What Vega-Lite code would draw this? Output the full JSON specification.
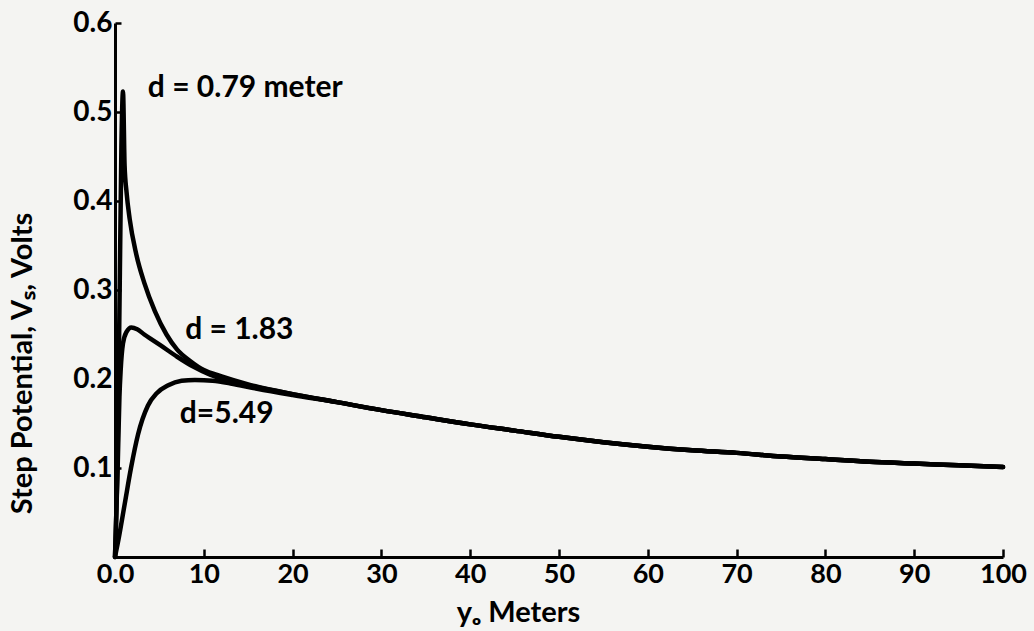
{
  "$schema": "https://vega.github.io/schema/vega-lite/v6.json",
  "width": 888,
  "height": 534,
  "autosize": {"type": "none"},
  "padding": {"left": 115, "top": 23, "right": 31, "bottom": 74},
  "background": "#f4f4f2",
  "config": {
    "view": {"stroke": null},
    "font": "Lato"
  },
  "datasets": {
    "curves": [
      {"x": 0, "v": 0, "d": "0.79"}, {"x": 0.3, "v": 0.12, "d": "0.79"}, {"x": 0.55, "v": 0.32, "d": "0.79"}, {"x": 0.72, "v": 0.46, "d": "0.79"}, {"x": 0.9, "v": 0.523, "d": "0.79"}, {"x": 1.08, "v": 0.44, "d": "0.79"}, {"x": 1.3, "v": 0.41, "d": "0.79"}, {"x": 1.65, "v": 0.38, "d": "0.79"}, {"x": 2.4, "v": 0.34, "d": "0.79"}, {"x": 3.3, "v": 0.308, "d": "0.79"}, {"x": 4.5, "v": 0.276, "d": "0.79"}, {"x": 5.8, "v": 0.25, "d": "0.79"}, {"x": 7, "v": 0.233, "d": "0.79"}, {"x": 8.5, "v": 0.22, "d": "0.79"}, {"x": 10, "v": 0.21, "d": "0.79"}, {"x": 12, "v": 0.203, "d": "0.79"}, {"x": 15, "v": 0.194, "d": "0.79"}, {"x": 20, "v": 0.183, "d": "0.79"}, {"x": 25, "v": 0.174, "d": "0.79"}, {"x": 30, "v": 0.165, "d": "0.79"}, {"x": 35, "v": 0.157, "d": "0.79"}, {"x": 40, "v": 0.149, "d": "0.79"}, {"x": 45, "v": 0.142, "d": "0.79"}, {"x": 50, "v": 0.135, "d": "0.79"}, {"x": 55, "v": 0.129, "d": "0.79"}, {"x": 60, "v": 0.124, "d": "0.79"}, {"x": 65, "v": 0.12, "d": "0.79"}, {"x": 70, "v": 0.117, "d": "0.79"}, {"x": 75, "v": 0.113, "d": "0.79"}, {"x": 80, "v": 0.11, "d": "0.79"}, {"x": 85, "v": 0.107, "d": "0.79"}, {"x": 90, "v": 0.105, "d": "0.79"}, {"x": 95, "v": 0.103, "d": "0.79"}, {"x": 100, "v": 0.101, "d": "0.79"},

      {"x": 0, "v": 0, "d": "1.83"}, {"x": 0.3, "v": 0.1, "d": "1.83"}, {"x": 0.5, "v": 0.18, "d": "1.83"}, {"x": 0.64, "v": 0.21, "d": "1.83"}, {"x": 0.9, "v": 0.24, "d": "1.83"}, {"x": 1.3, "v": 0.253, "d": "1.83"}, {"x": 1.84, "v": 0.258, "d": "1.83"}, {"x": 2.5, "v": 0.256, "d": "1.83"}, {"x": 3.3, "v": 0.25, "d": "1.83"}, {"x": 4.2, "v": 0.244, "d": "1.83"}, {"x": 5.1, "v": 0.238, "d": "1.83"}, {"x": 7, "v": 0.225, "d": "1.83"}, {"x": 8.8, "v": 0.214, "d": "1.83"}, {"x": 10.7, "v": 0.205, "d": "1.83"}, {"x": 12.6, "v": 0.199, "d": "1.83"}, {"x": 15, "v": 0.193, "d": "1.83"}, {"x": 20, "v": 0.183, "d": "1.83"}, {"x": 25, "v": 0.174, "d": "1.83"}, {"x": 30, "v": 0.165, "d": "1.83"}, {"x": 35, "v": 0.157, "d": "1.83"}, {"x": 40, "v": 0.149, "d": "1.83"}, {"x": 45, "v": 0.142, "d": "1.83"}, {"x": 50, "v": 0.135, "d": "1.83"}, {"x": 55, "v": 0.129, "d": "1.83"}, {"x": 60, "v": 0.124, "d": "1.83"}, {"x": 65, "v": 0.12, "d": "1.83"}, {"x": 70, "v": 0.117, "d": "1.83"}, {"x": 75, "v": 0.113, "d": "1.83"}, {"x": 80, "v": 0.11, "d": "1.83"}, {"x": 85, "v": 0.107, "d": "1.83"}, {"x": 90, "v": 0.105, "d": "1.83"}, {"x": 95, "v": 0.103, "d": "1.83"}, {"x": 100, "v": 0.101, "d": "1.83"},

      {"x": 0, "v": 0, "d": "5.49"}, {"x": 0.4, "v": 0.02, "d": "5.49"}, {"x": 1.1, "v": 0.06, "d": "5.49"}, {"x": 1.8, "v": 0.1, "d": "5.49"}, {"x": 2.6, "v": 0.138, "d": "5.49"}, {"x": 3.7, "v": 0.17, "d": "5.49"}, {"x": 4.7, "v": 0.184, "d": "5.49"}, {"x": 6, "v": 0.193, "d": "5.49"}, {"x": 7.5, "v": 0.198, "d": "5.49"}, {"x": 9, "v": 0.199, "d": "5.49"}, {"x": 11, "v": 0.198, "d": "5.49"}, {"x": 13, "v": 0.195, "d": "5.49"}, {"x": 16, "v": 0.189, "d": "5.49"}, {"x": 20, "v": 0.182, "d": "5.49"}, {"x": 25, "v": 0.174, "d": "5.49"}, {"x": 30, "v": 0.165, "d": "5.49"}, {"x": 35, "v": 0.157, "d": "5.49"}, {"x": 40, "v": 0.149, "d": "5.49"}, {"x": 45, "v": 0.142, "d": "5.49"}, {"x": 50, "v": 0.135, "d": "5.49"}, {"x": 55, "v": 0.129, "d": "5.49"}, {"x": 60, "v": 0.124, "d": "5.49"}, {"x": 65, "v": 0.12, "d": "5.49"}, {"x": 70, "v": 0.117, "d": "5.49"}, {"x": 75, "v": 0.113, "d": "5.49"}, {"x": 80, "v": 0.11, "d": "5.49"}, {"x": 85, "v": 0.107, "d": "5.49"}, {"x": 90, "v": 0.105, "d": "5.49"}, {"x": 95, "v": 0.103, "d": "5.49"}, {"x": 100, "v": 0.101, "d": "5.49"}
    ],
    "labels": [
      {"x": 3.7, "v": 0.527, "text": "d = 0.79 meter"},
      {"x": 7.9, "v": 0.255, "text": "d = 1.83"},
      {"x": 7.3, "v": 0.161, "text": "d=5.49"}
    ]
  },
  "layer": [
    {
      "data": {"name": "curves"},
      "mark": {"type": "line", "interpolate": "monotone", "strokeWidth": 4.5, "strokeCap": "round", "strokeJoin": "round"},
      "encoding": {
        "x": {
          "field": "x", "type": "quantitative",
          "scale": {"domain": [0, 100], "nice": false, "zero": true},
          "axis": {
            "values": [0, 10, 20, 30, 40, 50, 60, 70, 80, 90, 100],
            "labelExpr": "datum.value == 0 ? '0.0' : datum.label",
            "labelFlush": false,
            "grid": false,
            "domainColor": "black", "domainWidth": 3,
            "tickColor": "black", "tickWidth": 2.5, "tickSize": -8,
            "labelColor": "black", "labelFont": "Lato", "labelFontSize": 27, "labelFontWeight": "bold", "labelPadding": 12,
            "title": "yₒ Meters",
            "titleFont": "Lato", "titleFontSize": 29, "titleFontWeight": "bold", "titleColor": "black",
            "titleX": 403, "titleY": 55, "titleAlign": "center", "titleBaseline": "middle"
          }
        },
        "y": {
          "field": "v", "type": "quantitative",
          "scale": {"domain": [0, 0.6], "nice": false},
          "axis": {
            "values": [0.1, 0.2, 0.3, 0.4, 0.5, 0.6],
            "format": ".1f",
            "labelFlush": false,
            "grid": false,
            "domainColor": "black", "domainWidth": 3,
            "tickColor": "black", "tickWidth": 2.5, "tickSize": -6,
            "labelColor": "black", "labelFont": "Lato", "labelFontSize": 28, "labelFontWeight": "bold", "labelPadding": 9,
            "title": "Step Potential, Vₛ, Volts",
            "titleFont": "Lato", "titleFontSize": 29, "titleFontWeight": "bold", "titleColor": "black",
            "titleX": -93, "titleY": 340, "titleAlign": "center", "titleBaseline": "middle", "titleAngle": -90
          }
        },
        "color": {"field": "d", "type": "nominal", "scale": {"range": ["black", "black", "black"]}, "legend": null}
      }
    },
    {
      "data": {"name": "labels"},
      "mark": {"type": "text", "align": "left", "baseline": "middle", "font": "Lato", "fontSize": 30, "fontWeight": "bold", "color": "black"},
      "encoding": {
        "x": {"field": "x", "type": "quantitative"},
        "y": {"field": "v", "type": "quantitative"},
        "text": {"field": "text"}
      }
    }
  ]
}
